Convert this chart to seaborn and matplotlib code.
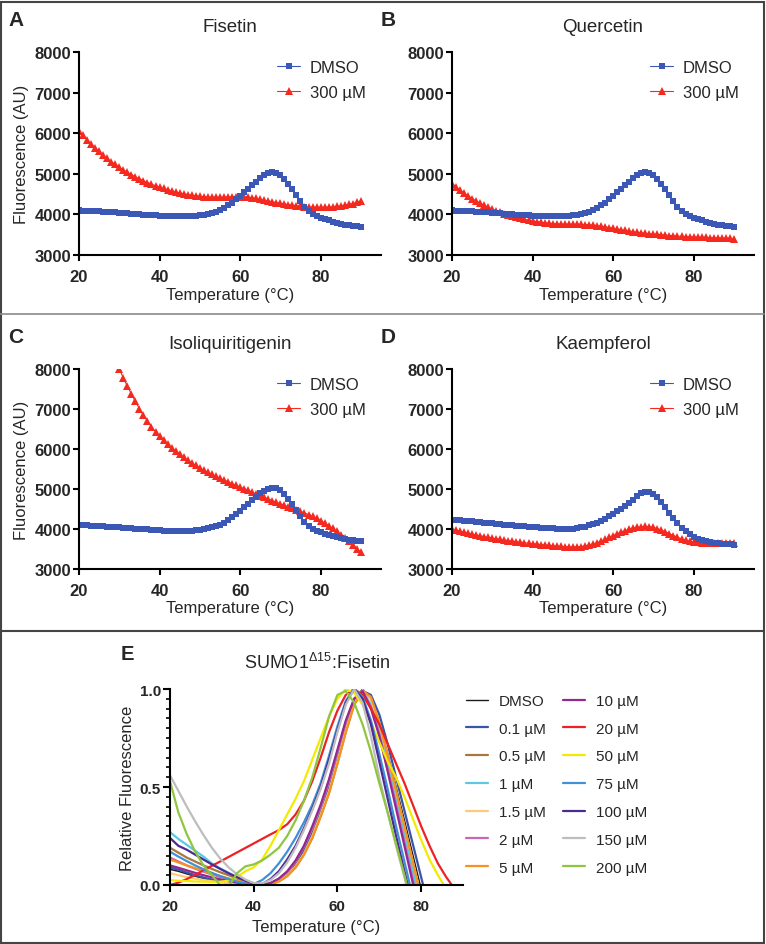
import matplotlib
matplotlib.use("Agg")
import matplotlib.pyplot as plt
from matplotlib.lines import Line2D
from matplotlib.patches import Rectangle
import seaborn as sns

W, H = 766, 945

# ---- panels A-D: raw melt curves (AU) ----
temps = list(range(20, 91))
dmso_abc = [4100, 4095, 4090, 4085, 4080, 4075, 4070, 4062, 4055, 4048,
            4040, 4032, 4025, 4018, 4010, 4002, 3995, 3988, 3980, 3973,
            3967, 3962, 3957, 3953, 3950, 3950, 3952, 3955, 3960, 3968,
            3980, 3995, 4015, 4040, 4070, 4110, 4160, 4220, 4290, 4370,
            4450, 4540, 4630, 4720, 4810, 4890, 4960, 5010, 5035, 5020,
            4970, 4880, 4760, 4620, 4470, 4320, 4180, 4080, 4010, 3960,
            3920, 3880, 3850, 3820, 3795, 3770, 3750, 3735, 3720, 3708,
            3700]
fisetin_300 = [6060, 5950, 5840, 5740, 5640, 5550, 5460, 5380, 5300, 5230,
               5160, 5095, 5035, 4980, 4925, 4875, 4830, 4785, 4745, 4705,
               4670, 4640, 4610, 4580, 4555, 4530, 4510, 4490, 4472, 4458,
               4445, 4435, 4428, 4422, 4420, 4420, 4422, 4428, 4435, 4440,
               4440, 4435, 4425, 4410, 4392, 4372, 4352, 4332, 4312, 4292,
               4275, 4258, 4242, 4228, 4215, 4203, 4192, 4183, 4177, 4173,
               4172, 4174, 4178, 4185, 4195, 4208, 4225, 4245, 4268, 4295,
               4330]
quercetin_300 = [4760, 4680, 4600, 4525, 4455, 4390, 4330, 4275, 4225, 4180,
                 4135, 4095, 4058, 4022, 3990, 3960, 3932, 3906, 3882, 3860,
                 3840, 3822, 3807, 3794, 3783, 3775, 3768, 3763, 3760, 3758,
                 3757, 3756, 3754, 3750, 3744, 3735, 3724, 3710, 3694, 3676,
                 3658, 3640, 3622, 3605, 3589, 3574, 3560, 3547, 3535, 3524,
                 3514, 3505, 3496, 3488, 3480, 3473, 3466, 3460, 3454, 3449,
                 3444, 3440, 3436, 3432, 3428, 3424, 3420, 3416, 3412, 3408,
                 3404]
isoliq_temps = list(range(30, 91))
isoliq_300 = [8000, 7780, 7570, 7380, 7190, 7010, 6850, 6700, 6560, 6430,
              6320, 6220, 6120, 6030, 5950, 5870, 5790, 5720, 5650, 5590,
              5530, 5470, 5420, 5370, 5320, 5270, 5225, 5180, 5135, 5090,
              5050, 5010, 4970, 4920, 4875, 4830, 4790, 4750, 4710, 4670,
              4630, 4592, 4555, 4518, 4480, 4442, 4402, 4360, 4315, 4265,
              4210, 4150, 4085, 4015, 3940, 3860, 3775, 3688, 3600, 3510,
              3420]
kaempferol_dmso = [4230, 4222, 4214, 4206, 4198, 4190, 4181, 4172, 4162, 4152,
                   4142, 4132, 4122, 4112, 4102, 4092, 4082, 4072, 4063, 4054,
                   4046, 4038, 4031, 4024, 4018, 4013, 4009, 4006, 4005, 4007,
                   4012, 4022, 4038, 4060, 4088, 4122, 4162, 4208, 4260, 4318,
                   4380, 4445, 4512, 4585, 4660, 4735, 4815, 4890, 4930, 4915,
                   4870, 4790, 4680, 4550, 4410, 4270, 4140, 4030, 3940, 3865,
                   3805, 3760, 3725, 3698, 3677, 3660, 3647, 3636, 3626, 3618,
                   3610]
kaempferol_300 = [4000, 3972, 3945, 3920, 3896, 3873, 3851, 3830, 3810, 3791,
                  3773, 3756, 3740, 3725, 3710, 3696, 3683, 3670, 3657, 3645,
                  3633, 3622, 3611, 3600, 3590, 3580, 3571, 3563, 3557, 3553,
                  3551, 3553, 3560, 3574, 3595, 3623, 3658, 3698, 3742, 3788,
                  3835, 3880, 3922, 3960, 3993, 4020, 4042, 4057, 4063, 4058,
                  4040, 4010, 3972, 3928, 3882, 3836, 3793, 3755, 3722, 3696,
                  3677, 3664, 3656, 3651, 3649, 3649, 3650, 3652, 3655, 3658,
                  3662]

# ---- panel E: normalised curves ----
e_temps = list(range(20, 89, 2))
conc_labels = ["DMSO", "0.1 µM", "0.5 µM", "1 µM", "1.5 µM", "2 µM", "5 µM",
               "10 µM", "20 µM", "50 µM", "75 µM", "100 µM", "150 µM", "200 µM"]
rel_fluor = {
    "DMSO": [0.08, 0.07, 0.057, 0.045, 0.034, 0.025, 0.017, 0.01, 0.005, 0.002,
             0.0, 0.0, 0.008, 0.027, 0.06, 0.11, 0.18, 0.27, 0.38, 0.51,
             0.66, 0.81, 0.94, 1.0, 0.95, 0.83, 0.67, 0.5, 0.33, 0.155,
             -0.02, -0.2, -0.4, -0.6, -0.8],
    "0.1 µM": [0.09, 0.078, 0.064, 0.05, 0.038, 0.028, 0.019, 0.011, 0.005, 0.002,
               0.0, 0.0, 0.006, 0.024, 0.055, 0.1, 0.17, 0.26, 0.37, 0.5,
               0.65, 0.8, 0.93, 0.99, 0.97, 0.87, 0.72, 0.55, 0.38, 0.21,
               0.04, -0.13, -0.3, -0.5, -0.7],
    "0.5 µM": [0.19, 0.165, 0.14, 0.12, 0.1, 0.082, 0.065, 0.05, 0.033, 0.018,
               0.006, 0.0, 0.003, 0.018, 0.045, 0.09, 0.155, 0.24, 0.35, 0.47,
               0.62, 0.78, 0.92, 0.99, 0.95, 0.82, 0.65, 0.47, 0.29, 0.11,
               -0.07, -0.25, -0.45, -0.65, -0.85],
    "1 µM": [0.27, 0.235, 0.205, 0.175, 0.145, 0.11, 0.085, 0.062, 0.04, 0.022,
             0.01, 0.003, 0.008, 0.03, 0.065, 0.12, 0.195, 0.29, 0.4, 0.53,
             0.68, 0.83, 0.95, 0.99, 0.92, 0.79, 0.62, 0.44, 0.26, 0.07,
             -0.12, -0.3, -0.5, -0.7, -0.9],
    "1.5 µM": [0.06, 0.05, 0.04, 0.032, 0.025, 0.019, 0.014, 0.009, 0.005, 0.002,
               0.0, 0.0, 0.004, 0.02, 0.05, 0.095, 0.16, 0.25, 0.36, 0.48,
               0.63, 0.79, 0.93, 0.995, 0.95, 0.82, 0.66, 0.48, 0.3, 0.12,
               -0.06, -0.24, -0.44, -0.64, -0.84],
    "2 µM": [0.14, 0.12, 0.1, 0.083, 0.068, 0.054, 0.041, 0.029, 0.018, 0.009,
             0.003, 0.001, 0.008, 0.03, 0.065, 0.12, 0.195, 0.29, 0.4, 0.53,
             0.68, 0.83, 0.95, 0.99, 0.91, 0.77, 0.59, 0.41, 0.22, 0.03,
             -0.16, -0.35, -0.55, -0.75, -0.95],
    "5 µM": [0.13, 0.115, 0.1, 0.086, 0.072, 0.059, 0.046, 0.034, 0.022, 0.012,
             0.004, 0.0, 0.003, 0.018, 0.046, 0.09, 0.155, 0.24, 0.35, 0.47,
             0.62, 0.78, 0.92, 0.99, 0.96, 0.83, 0.66, 0.48, 0.3, 0.12,
             -0.06, -0.25, -0.45, -0.65, -0.85],
    "10 µM": [0.1, 0.088, 0.075, 0.062, 0.05, 0.039, 0.029, 0.02, 0.012, 0.006,
              0.002, 0.001, 0.01, 0.033, 0.07, 0.125, 0.2, 0.3, 0.41, 0.54,
              0.69, 0.84, 0.95, 0.99, 0.9, 0.76, 0.58, 0.39, 0.2, 0.01,
              -0.18, -0.37, -0.57, -0.77, -0.97],
    "20 µM": [0.0, 0.012, 0.03, 0.052, 0.075, 0.098, 0.12, 0.143, 0.166, 0.189,
              0.212, 0.235, 0.258, 0.28, 0.31, 0.36, 0.43, 0.53, 0.65, 0.78,
              0.89, 0.97, 1.0, 0.97, 0.9, 0.82, 0.72, 0.62, 0.52, 0.41,
              0.3, 0.2, 0.11, 0.04, -0.02],
    "50 µM": [0.025, 0.022, 0.02, 0.018, 0.017, 0.016, 0.017, 0.022, 0.04, 0.07,
              0.09, 0.13, 0.2, 0.28, 0.36, 0.44, 0.53, 0.64, 0.75, 0.86,
              0.95, 1.0, 0.98, 0.92, 0.83, 0.73, 0.63, 0.55, 0.45, 0.34,
              0.23, 0.13, 0.05, -0.02, -0.08],
    "75 µM": [0.17, 0.145, 0.122, 0.1, 0.08, 0.062, 0.045, 0.03, 0.017, 0.007,
              0.005, 0.025, 0.06, 0.11, 0.17, 0.24, 0.32, 0.41, 0.52, 0.66,
              0.81, 0.94, 1.0, 0.96, 0.84, 0.67, 0.49, 0.3, 0.12, -0.06,
              -0.25, -0.45, -0.65, -0.85, -1.0],
    "100 µM": [0.24, 0.2, 0.18, 0.155, 0.13, 0.105, 0.082, 0.06, 0.04, 0.022,
               0.008, 0.005, 0.03, 0.07, 0.13, 0.2, 0.29, 0.39, 0.5, 0.64,
               0.79, 0.93, 1.0, 0.95, 0.82, 0.63, 0.44, 0.25, 0.07, -0.11,
               -0.3, -0.5, -0.7, -0.9, -1.1],
    "150 µM": [0.56, 0.48, 0.4, 0.325, 0.255, 0.19, 0.135, 0.09, 0.055, 0.028,
               0.01, 0.008, 0.025, 0.06, 0.115, 0.19, 0.28, 0.38, 0.49, 0.62,
               0.78, 0.92, 1.0, 0.93, 0.76, 0.55, 0.37, 0.2, 0.04, -0.13,
               -0.3, -0.5, -0.7, -0.9, -1.1],
    "200 µM": [0.53, 0.37, 0.26, 0.17, 0.1, 0.05, -0.002, -0.01, 0.06, 0.095,
               0.105, 0.125, 0.155, 0.19, 0.25, 0.33, 0.43, 0.55, 0.7, 0.86,
               0.97, 0.99, 0.93, 0.82, 0.68, 0.52, 0.37, 0.21, 0.05, -0.12,
               -0.3, -0.5, -0.7, -0.9, -1.1],
}
conc_colors = ["#1a1a1a", "#3a54a6", "#a8773f", "#5cc9e2", "#fdca7c", "#c767b6",
               "#f7921e", "#94288f", "#ee2125", "#f4ea00", "#4190d7", "#4b2b93",
               "#bdbdbd", "#8fc640"]

BLUE = "#3b58b6"
RED = "#f4291f"
FONT = ["Liberation Sans", "DejaVu Sans"]

sns.set_style("ticks")
plt.rcParams["font.family"] = FONT
plt.rcParams["mathtext.default"] = "regular"

fig = plt.figure(figsize=(W / 100, H / 100), dpi=100)


def px_rect(l, t, r, b):
    return [l / W, 1 - b / H, (r - l) / W, (b - t) / H]


def style_axes(ax, fs):
    sns.despine(ax=ax)
    for s in ("left", "bottom"):
        ax.spines[s].set_linewidth(1.5)
        ax.spines[s].set_color("black")
    ax.tick_params(axis="both", which="major", length=4, width=1.5,
                   color="black", labelsize=fs)
    ax.tick_params(axis="x", pad=6)
    ax.tick_params(axis="y", pad=1.5)
    for lbl in ax.get_xticklabels() + ax.get_yticklabels():
        lbl.set_fontweight("bold")


def melt_panel(rect, letter, title, dmso, treat_t, treat, ylabel):
    ax = fig.add_axes(px_rect(*rect))
    sns.lineplot(x=treat_t, y=treat, color=RED, marker="^", markersize=5.2,
                 markeredgewidth=0, linewidth=0.8, ax=ax)
    sns.lineplot(x=temps, y=dmso, color=BLUE, marker="s", markersize=4.8,
                 markeredgewidth=0, linewidth=0.8, ax=ax)
    ax.set_xlim(20, 95)
    ax.set_ylim(3000, 8000)
    ax.set_xticks([20, 40, 60, 80])
    ax.set_yticks(range(3000, 8001, 1000))
    style_axes(ax, 12)
    ax.set_xlabel("Temperature (°C)", fontsize=12)
    ax.xaxis.set_label_coords(0.5, -0.215)
    ax.xaxis.label.set_va("baseline")
    if ylabel:
        ax.set_ylabel("Fluorescence (AU)", fontsize=12)
        ax.yaxis.set_label_coords(-0.189, 0.5)
        ax.yaxis.label.set_va("center")
    else:
        ax.set_ylabel("")
    ax.text(0.5, 1 + 21 / 203, title, transform=ax.transAxes, ha="center",
            va="baseline", fontsize=13.5)
    handles = [Line2D([], [], color=BLUE, marker="s", markersize=4.8, lw=0.8,
                      markeredgewidth=0),
               Line2D([], [], color=RED, marker="^", markersize=5.2, lw=0.8,
                      markeredgewidth=0)]
    ax.legend(handles, ["DMSO", "300 µM"], loc="upper left",
              bbox_to_anchor=(0.656, 0.96), frameon=False, fontsize=12,
              borderpad=0, borderaxespad=0, handlelength=1.4,
              handletextpad=0.55, labelspacing=0.6)
    x0 = rect[0] - 71
    fig.text(x0 / W, 1 - (rect[1] - 42) / H, letter, fontsize=15,
             fontweight="bold", ha="left", va="top")
    return ax


melt_panel((79, 53, 381, 256), "A", "Fisetin", dmso_abc, temps, fisetin_300, True)
melt_panel((452, 53, 754, 256), "B", "Quercetin", dmso_abc, temps, quercetin_300, False)
melt_panel((79, 370, 381, 570), "C", "Isoliquiritigenin", dmso_abc, isoliq_temps,
           isoliq_300, True)
melt_panel((452, 370, 754, 570), "D", "Kaempferol", kaempferol_dmso, temps,
           kaempferol_300, False)

# ---- panel E ----
axe = fig.add_axes(px_rect(170, 690, 463, 886))
for lab, col in zip(conc_labels, conc_colors):
    lw = 1.1 if lab == "DMSO" else 1.6
    sns.lineplot(x=e_temps, y=rel_fluor[lab], color=col, linewidth=lw, ax=axe)
axe.set_xlim(20, 90)
axe.set_ylim(0, 1.0)
axe.set_xticks([20, 40, 60, 80])
axe.set_yticks([0.0, 0.5, 1.0])
axe.set_yticks([i * 0.05 for i in range(21)], minor=True)
axe.set_yticklabels(["0.0", "0.5", "1.0"])
style_axes(axe, 11)
axe.tick_params(axis="both", which="major", length=5)
axe.tick_params(axis="y", which="minor", length=3, width=1.2, color="black")
axe.tick_params(axis="x", pad=5)
axe.set_xlabel("Temperature (°C)", fontsize=12)
axe.xaxis.set_label_coords(0.5, -46 / 196)
axe.xaxis.label.set_va("baseline")
axe.set_ylabel("Relative Fluorescence", fontsize=12)
axe.yaxis.set_label_coords(-43 / 293, 0.5)
axe.yaxis.label.set_va("center")
axe.text(0.5, 1 + 21 / 196, "SUMO1$^{Δ15}$:Fisetin", transform=axe.transAxes,
         ha="center", va="baseline", fontsize=13)
e_handles = [Line2D([], [], color=c, lw=(1.0 if l == "DMSO" else 1.6))
             for l, c in zip(conc_labels, conc_colors)]
axe.legend(e_handles, conc_labels, ncol=2, loc="upper left",
           bbox_to_anchor=(466 / W, 1 - 695 / H), bbox_transform=fig.transFigure,
           frameon=False, fontsize=11, borderpad=0, borderaxespad=0,
           handlelength=1.45, handletextpad=0.72, columnspacing=1.1,
           labelspacing=0.9)
fig.text(121 / W, 1 - 645 / H, "E", fontsize=14.5, fontweight="bold",
         ha="left", va="top")

# ---- frame lines ----
fig.add_artist(Rectangle((1.5 / W, 1.5 / H), (W - 4) / W, (H - 4) / H,
                         transform=fig.transFigure, fill=False,
                         edgecolor="#444444", lw=1.5))
fig.add_artist(Line2D([0, 764 / W], [1 - 315 / H] * 2, transform=fig.transFigure,
                      color="#8a8a8a", lw=1.2))
fig.add_artist(Line2D([0, 764 / W], [1 - 632 / H] * 2, transform=fig.transFigure,
                      color="#444444", lw=1.5))

fig.savefig("out.png", dpi=100)
